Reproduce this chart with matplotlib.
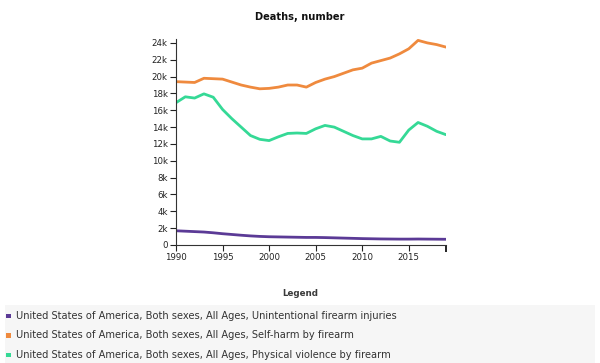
import numpy as np
import matplotlib
matplotlib.use("Agg")
import matplotlib.pyplot as plt
from matplotlib.patches import Rectangle

years = list(range(1990, 2020))

# 非故意枪伤
unintentional = [1690, 1640, 1590, 1540, 1450, 1340, 1250, 1160, 1080, 1020,
                 980, 960, 940, 920, 900, 900, 880, 850, 820, 790,
                 760, 740, 720, 710, 700, 700, 710, 700, 690, 680]
# 枪支自残
self_harm = [19400, 19350, 19300, 19800, 19750, 19700, 19350, 19000, 18750, 18550,
             18600, 18750, 19000, 19000, 18750, 19300, 19700, 20000, 20400, 20800,
             21000, 21600, 21900, 22200, 22700, 23300, 24300, 24000, 23800, 23500]
# 枪支暴力
violence = [16900, 17600, 17450, 17950, 17550, 16100, 15000, 14000, 13000, 12550,
            12400, 12850, 13250, 13300, 13250, 13800, 14200, 14000, 13500, 13000,
            12600, 12600, 12900, 12350, 12200, 13650, 14550, 14100, 13500, 13100]

series_names = [
    "United States of America, Both sexes, All Ages, Unintentional firearm injuries",
    "United States of America, Both sexes, All Ages, Self-harm by firearm",
    "United States of America, Both sexes, All Ages, Physical violence by firearm",
]
colors = ["#5b3a96", "#ef8a3e", "#35d996"]

fig = plt.figure(figsize=(6, 3.63), dpi=100)

# 图例背景
fig.patches.append(Rectangle((5 / 600, 0), 590 / 600, 58 / 363, transform=fig.transFigure,
                             facecolor="#f6f6f6", edgecolor="none", zorder=0))

ax = fig.add_axes([176 / 600, 1 - 245 / 363, 270 / 600, (245 - 38.7) / 363])
for vals, c in zip([unintentional, self_harm, violence], colors):
    ax.plot(years, vals, color=c, linewidth=2.0, solid_capstyle="round")

ax.set_xlim(1990, 2019)
ax.set_ylim(0, 24500)
ax.set_yticks(np.arange(0, 24001, 2000))
ax.set_yticklabels(["0"] + [f"{v}k" for v in range(2, 25, 2)])
ax.set_xticks([1990, 1995, 2000, 2005, 2010, 2015])
ax.set_xticks([2019], minor=True)
ax.tick_params(axis="both", labelsize=6.2, colors="#222222", length=4.5, width=0.8, pad=1.5)
ax.tick_params(axis="x", which="minor", length=5, width=1.2)
for s in ["top", "right"]:
    ax.spines[s].set_visible(False)
for s in ["left", "bottom"]:
    ax.spines[s].set_color("#333333")
    ax.spines[s].set_linewidth(0.8)

fig.text(0.5, 1 - 17 / 363, "Deaths, number", ha="center", va="center",
         fontsize=7.1, fontweight="bold", color="#111111")
fig.text(0.5, 1 - 294 / 363, "Legend", ha="center", va="center",
         fontsize=6.3, fontweight="bold", color="#3a3a3a")

for i, (name, c) in enumerate(zip(series_names, colors)):
    y = 1 - (316 + i * 19.5) / 363
    fig.patches.append(Rectangle((6 / 600, y - 2.2 / 363), 4.5 / 600, 4.5 / 363,
                                 transform=fig.transFigure, facecolor=c, edgecolor="none"))
    fig.text(16 / 600, y, name, ha="left", va="center", fontsize=7.1, color="#333333")

fig.savefig("out.png", dpi=100)
